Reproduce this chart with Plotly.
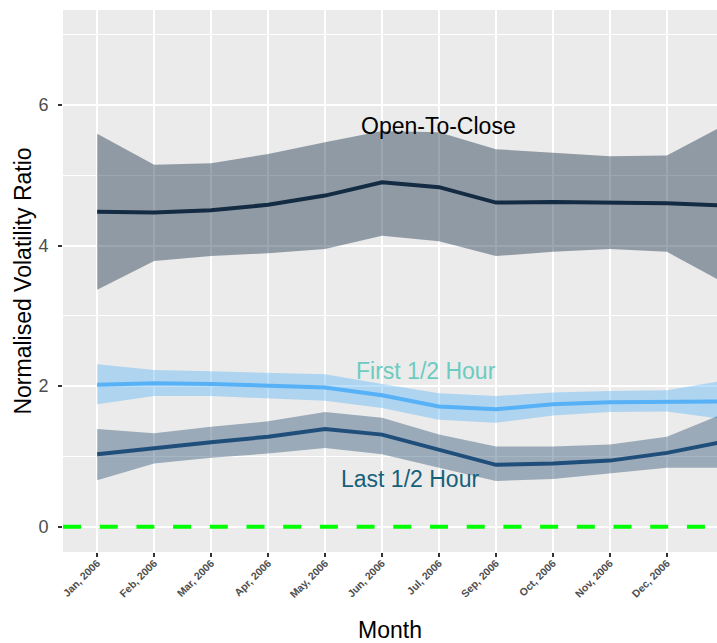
import plotly.graph_objects as go

months = ["Jan, 2006", "Feb, 2006", "Mar, 2006", "Apr, 2006", "May, 2006", "Jun, 2006",
          "Jul, 2006", "Sep, 2006", "Oct, 2006", "Nov, 2006", "Dec, 2006", "Jan, 2007"]

open_mid = [4.48, 4.47, 4.50, 4.58, 4.71, 4.90, 4.83, 4.61, 4.62, 4.61, 4.60, 4.57]
open_hi  = [5.59, 5.15, 5.17, 5.30, 5.47, 5.63, 5.61, 5.37, 5.32, 5.27, 5.28, 5.71]
open_lo  = [3.37, 3.78, 3.85, 3.89, 3.95, 4.14, 4.06, 3.85, 3.91, 3.95, 3.91, 3.47]

first_mid = [2.02, 2.04, 2.03, 2.01, 1.98, 1.87, 1.71, 1.67, 1.74, 1.77, 1.78, 1.78]
first_hi  = [2.31, 2.23, 2.21, 2.19, 2.17, 2.03, 1.90, 1.86, 1.91, 1.93, 1.94, 2.08]
first_lo  = [1.74, 1.86, 1.86, 1.83, 1.79, 1.69, 1.52, 1.48, 1.58, 1.63, 1.64, 1.53]

last_mid = [1.03, 1.12, 1.20, 1.28, 1.39, 1.31, 1.10, 0.88, 0.90, 0.94, 1.05, 1.21]
last_hi  = [1.39, 1.33, 1.42, 1.50, 1.63, 1.55, 1.31, 1.14, 1.14, 1.17, 1.28, 1.61]
last_lo  = [0.66, 0.90, 0.98, 1.04, 1.12, 1.03, 0.84, 0.65, 0.68, 0.76, 0.84, 0.84]

labels = [("Open-To-Close", 6.0, 5.70, "#000000"),
          ("First 1/2 Hour", 5.78, 2.21, "#6CCBC0"),
          ("Last 1/2 Hour", 5.49, 0.68, "#15607A")]

series = [
    (open_hi, open_lo, open_mid, "rgba(19,43,67,0.42)", "#132B43"),
    (first_hi, first_lo, first_mid, "rgba(86,177,247,0.40)", "#56B1F7"),
    (last_hi, last_lo, last_mid, "rgba(35,72,108,0.40)", "#1F4E7A"),
]

fig = go.Figure()
for hi, lo, mid, fillc, linec in series:
    fig.add_trace(go.Scatter(x=months, y=hi, mode="lines", line=dict(width=0),
                             hoverinfo="skip", showlegend=False))
    fig.add_trace(go.Scatter(x=months, y=lo, mode="lines", line=dict(width=0),
                             fill="tonexty", fillcolor=fillc,
                             hoverinfo="skip", showlegend=False))
for hi, lo, mid, fillc, linec in series:
    fig.add_trace(go.Scatter(x=months, y=mid, mode="lines",
                             line=dict(color=linec, width=4), showlegend=False))

fig.add_hline(y=0, line=dict(color="#00FF00", width=4, dash="18px,18.7px"))

for text, xi, yv, col in labels:
    fig.add_annotation(x=xi, y=yv, text=text, showarrow=False,
                       font=dict(family="Liberation Sans, Arial", size=23, color=col))

fig.update_layout(
    width=717, height=643,
    margin=dict(l=63, r=0, t=10, b=91),
    paper_bgcolor="white", plot_bgcolor="#EBEBEB",
    font=dict(family="Liberation Sans, Arial", color="#4D4D4D"),
    showlegend=False,
)
fig.update_xaxes(
    type="category", range=[-0.6, 10.88], automargin=False,
    showgrid=True, gridcolor="white", gridwidth=1.6,
    ticks="outside", ticklen=4, tickcolor="#333333", tickwidth=1.5,
    ticklabelstandoff=-4,
    tickangle=-45, tickfont=dict(family="Liberation Sans, Arial", size=10.5, color="#4D4D4D", weight="bold"),
    title=dict(text="Month", font=dict(size=23, color="#000000"), standoff=28),
    zeroline=False, showline=False,
)
fig.update_yaxes(
    range=[-0.36, 7.35], automargin=False,
    tickvals=[0, 2, 4, 6],
    showgrid=True, gridcolor="white", gridwidth=1.6,
    minor=dict(tickvals=[1, 3, 5, 7], showgrid=True, gridcolor="white", gridwidth=0.8),
    ticks="outside", ticklen=4, tickcolor="#333333", tickwidth=1.5,
    ticklabelstandoff=6,
    tickfont=dict(size=18, color="#4D4D4D"),
    title=dict(text="Normalised Volatility Ratio", font=dict(size=23, color="#000000"), standoff=0),
    zeroline=False, showline=False,
)

fig.write_html(
    "out.html",
    config={"responsive": False, "displayModeBar": False},
    post_script="document.body.style.margin='0';document.body.style.overflow='hidden';",
)
